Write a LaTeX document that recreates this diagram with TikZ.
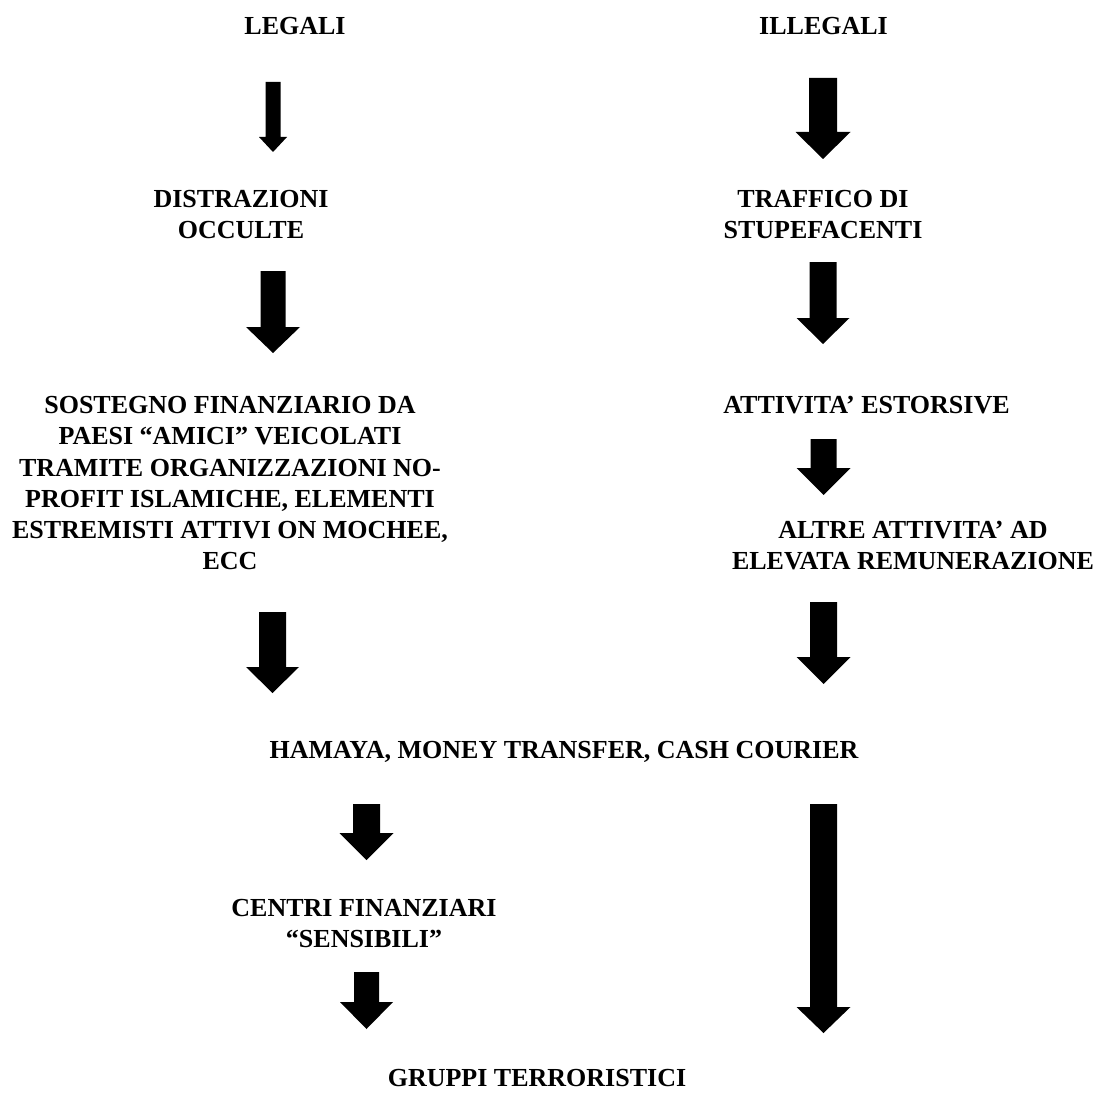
\documentclass[tikz,border=0pt]{standalone}
\usepackage{fontspec}
\setmainfont{Liberation Serif}
\newcommand{\dnarrow}[6]{% cx, top, headstart, tip, shaft width, head width
  \fill[black] ({#1-#5/2},#2) -- ({#1+#5/2},#2) -- ({#1+#5/2},#3) -- ({#1+#6/2},#3)
    -- (#1,#4) -- ({#1-#6/2},#3) -- ({#1-#5/2},#3) -- cycle;}
\begin{document}
\begin{tikzpicture}[x=1pt,y=-1pt,
  lbl/.style={inner sep=0pt,outer sep=0pt,align=center,
    font=\fontsize{26}{31.2}\selectfont\bfseries}]
\useasboundingbox[fill=white] (0,0) rectangle (1101,1097);
% labels
\node[lbl,anchor=base] (legali) at (295,34.3) {LEGALI};
\node[lbl,anchor=base] (illegali) at (823.5,34.3) {ILLEGALI};
\node[lbl,anchor=north] (distr) at (241,190) {DISTRAZIONI\\OCCULTE};
\node[lbl,anchor=north] (traff) at (823,190) {TRAFFICO DI\\STUPEFACENTI};
\node[lbl,anchor=north] (sost) at (230,396.5) {SOSTEGNO FINANZIARIO DA\\PAESI “AMICI” VEICOLATI\\TRAMITE ORGANIZZAZIONI NO-\\PROFIT ISLAMICHE, ELEMENTI\\ESTREMISTI ATTIVI ON MOCHEE,\\ECC};
\node[lbl,anchor=base] (estors) at (866.5,413.5) {ATTIVITA’ ESTORSIVE};
\node[lbl,anchor=north] (altre) at (913,521.5) {ALTRE ATTIVITA’ AD\\ELEVATA REMUNERAZIONE};
\node[lbl,anchor=base] (hamaya) at (564,758) {HAMAYA, MONEY TRANSFER, CASH COURIER};
\node[lbl,anchor=north] (centri) at (364,899.5) {CENTRI FINANZIARI\\“SENSIBILI”};
\node[lbl,anchor=base] (gruppi) at (537,1086) {GRUPPI TERRORISTICI};
% block arrows
\dnarrow{273}{82}{137}{152}{15}{28}
\dnarrow{823}{78}{132}{159}{28}{55}
\dnarrow{273}{271}{327}{353}{25}{54}
\dnarrow{823}{262}{318}{344}{27}{53}
\dnarrow{823.5}{439}{468}{495}{26}{54}
\dnarrow{272.5}{612}{667}{693}{27}{53}
\dnarrow{823.5}{602}{657}{684}{27}{54}
\dnarrow{366.5}{804}{833}{860}{27}{54}
\dnarrow{823.5}{804}{1007}{1033}{27}{54}
\dnarrow{366.5}{972}{1002}{1029}{25}{53}
\end{tikzpicture}
\end{document}
